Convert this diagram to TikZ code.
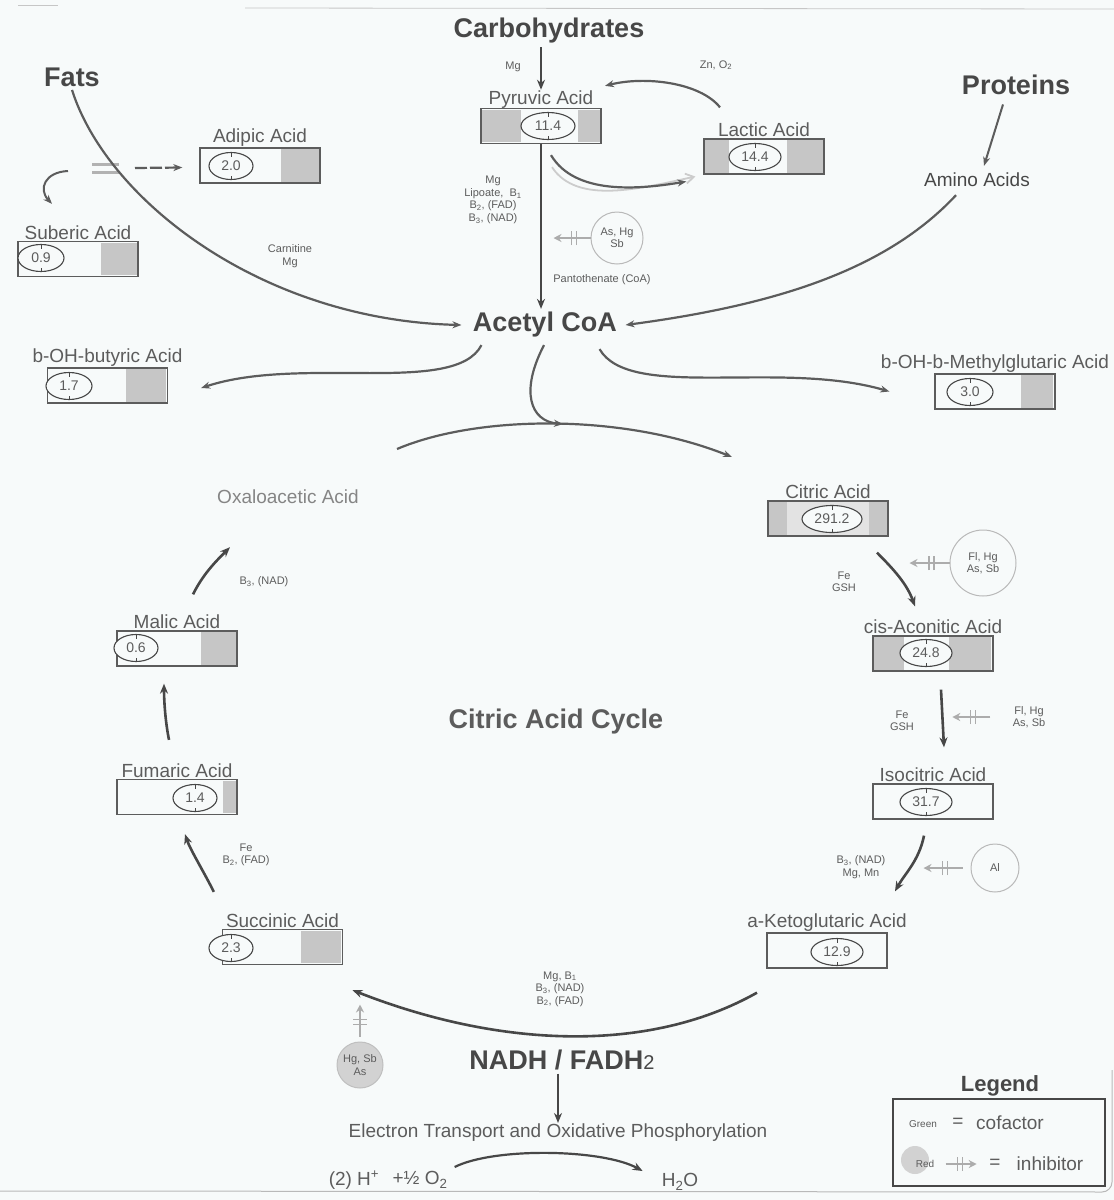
\documentclass[tikz,border=0pt]{standalone}
\usepackage{fontspec}
\setmainfont{Liberation Sans}
\usetikzlibrary{positioning,shapes.geometric,arrows.meta,decorations.markings,backgrounds,calc}
\definecolor{ink}{HTML}{474747}
\definecolor{softink}{HTML}{5C5C5C}
\definecolor{paleink}{HTML}{858585}
\definecolor{paper}{HTML}{F7FAFA}
\definecolor{shade}{HTML}{C6C6C6}

\begin{document}
\begin{tikzpicture}[x=1pt, y=-1pt,
    title/.style={font=\fontsize{27}{30}\selectfont\bfseries, text=ink},
    acidlabel/.style={font=\fontsize{19}{21}\selectfont, text=softink, inner sep=1pt},
    acidbox/.style={draw=softink, line width=1.3pt, minimum width=120, minimum height=35, inner sep=0pt},
    value/.style={ellipse, draw=ink, line width=1.1pt, fill=paper, minimum width=46, minimum height=27, inner sep=0pt,
        font=\fontsize{14}{14}\selectfont, text=softink,
        path picture={\draw[ink, line width=0.8pt] (path picture bounding box.north) -- ++(0,4)
            (path picture bounding box.south) -- ++(0,-4);}},
    cofac/.style={font=\fontsize{11}{12.5}\selectfont, text=softink, align=center},
    hatch/.style={fill=shade},
    flow/.style={draw=ink, line width=2.6pt, -{Stealth[length=10pt, width=8pt]}},
    branch/.style={draw=softink, line width=2.2pt, -{Stealth[length=9pt, width=7pt]}},
    poison/.style={circle, draw=gray!55, line width=1pt, fill=paper, minimum size=52, inner sep=0pt,
        font=\fontsize{11}{12.5}\selectfont, text=softink, align=center},
    inhib/.style={draw=gray!65, line width=2.2pt, -{Stealth[length=8pt, width=8pt]},
        decoration={markings, mark=at position 0.45 with {\draw[-, gray!65, line width=1.3pt] (-2.5,-7) -- (-2.5,7) (2.5,-7) -- (2.5,7);}},
        postaction={decorate}}
]
\begin{scope}[on background layer]
\fill[paper] (0,0) rectangle (1114,1200);
\end{scope}
\useasboundingbox (0,0) rectangle (1114,1200);

% Page edges of the scan
\draw[gray!45, line width=0.8pt] (18,5) -- (58,5);
\draw[gray!45, line width=0.8pt] (245,8) -- (1114,9);
\draw[gray!55, line width=1pt, rounded corners=10pt] (0,1191) -- (1112,1192) -- (1112,1070);

% Sources
\node[title] (carbo) at (549,31) {Carbohydrates};
\node[title] (fats) at (72,77) {Fats};
\node[title] (proteins) at (1016,85) {Proteins};
\node[acidlabel, text=ink] (amino) at (977,180) {Amino Acids};
\node[title] (acetyl) at (545,325) {Acetyl CoA};

% Side acids
\node[acidbox] (pyruvic) at (541,126) {};
\node[acidlabel, above=-2pt of pyruvic] (pyruvic-label) {Pyruvic Acid};
\node[acidbox] (lactic) at (764,156.5) {};
\node[acidlabel, above=0pt of lactic] (lactic-label) {Lactic Acid};
\node[acidbox] (adipic) at (260,165.5) {};
\node[acidlabel, above=0pt of adipic] (adipic-label) {Adipic Acid};
\node[acidbox] (suberic) at (78,259) {};
\node[acidlabel, above=0pt of suberic] (suberic-label) {Suberic Acid};
\node[acidbox] (butyric) at (107.5,385.5) {};
\node[acidlabel, above=0pt of butyric] (butyric-label) {b-OH-butyric Acid};
\node[acidbox] (hmg) at (995,391.5) {};
\node[acidlabel, above=0pt of hmg] (hmg-label) {b-OH-b-Methylglutaric Acid};

% Cycle acids
\node[acidbox] (citric) at (828,518.5) {};
\node[acidlabel, above=0pt of citric] (citric-label) {Citric Acid};
\node[acidbox] (aconitic) at (933,653.5) {};
\node[acidlabel, above=0pt of aconitic] (aconitic-label) {cis-Aconitic Acid};
\node[acidbox] (isocitric) at (933,801.5) {};
\node[acidlabel, above=0pt of isocitric] (isocitric-label) {Isocitric Acid};
\node[acidbox] (keto) at (827,950.5) {};
\node[acidlabel, above=0pt of keto] (keto-label) {a-Ketoglutaric Acid};
\node[acidbox] (succinic) at (282.5,947) {};
\node[acidlabel, above=0pt of succinic] (succinic-label) {Succinic Acid};
\node[acidbox] (fumaric) at (177,797) {};
\node[acidlabel, above=0pt of fumaric] (fumaric-label) {Fumaric Acid};
\node[acidbox] (malic) at (177,648.5) {};
\node[acidlabel, above=0pt of malic] (malic-label) {Malic Acid};
\node[acidlabel, text=paleink] (oxalo) at (288,497) {Oxaloacetic Acid};

% Pencil shading in the boxes
\begin{scope}[on background layer]
\fill[hatch] ([shift={(2,2)}]pyruvic.north west) rectangle ([shift={(41,-2)}]pyruvic.south west);
\fill[hatch] ([shift={(-24,2)}]pyruvic.north east) rectangle ([shift={(-2,-2)}]pyruvic.south east);
\fill[hatch] ([shift={(2,2)}]lactic.north west) rectangle ([shift={(26,-2)}]lactic.south west);
\fill[hatch] ([shift={(-38,2)}]lactic.north east) rectangle ([shift={(-2,-2)}]lactic.south east);
\fill[hatch] ([shift={(-40,2)}]adipic.north east) rectangle ([shift={(-2,-2)}]adipic.south east);
\fill[hatch] ([shift={(-38,2)}]suberic.north east) rectangle ([shift={(-2,-2)}]suberic.south east);
\fill[hatch] ([shift={(-42,2)}]butyric.north east) rectangle ([shift={(-2,-2)}]butyric.south east);
\fill[hatch] ([shift={(-35,2)}]hmg.north east) rectangle ([shift={(-3,-2)}]hmg.south east);
\fill[gray!22] ([shift={(2,2)}]citric.north west) rectangle ([shift={(-2,-2)}]citric.south east);
\fill[hatch] ([shift={(2,2)}]citric.north west) rectangle ([shift={(20,-2)}]citric.south west);
\fill[hatch] ([shift={(-20,2)}]citric.north east) rectangle ([shift={(-2,-2)}]citric.south east);
\fill[hatch] ([shift={(2,2)}]aconitic.north west) rectangle ([shift={(32,-2)}]aconitic.south west);
\fill[hatch] ([shift={(-45,2)}]aconitic.north east) rectangle ([shift={(-3,-2)}]aconitic.south east);
\fill[hatch] ([shift={(-42,2)}]succinic.north east) rectangle ([shift={(-2,-2)}]succinic.south east);
\fill[hatch] ([shift={(-15,2)}]fumaric.north east) rectangle ([shift={(-1,-2)}]fumaric.south east);
\fill[hatch] ([shift={(-37,2)}]malic.north east) rectangle ([shift={(-1,-2)}]malic.south east);
\end{scope}

% Values
\node[value, minimum width=54] (pyruvic-val) at (548,126) {11.4};
\node[value, minimum width=52] (lactic-val) at (755,157) {14.4};
\node[value, minimum width=44] (adipic-val) at (231,166) {2.0};
\node[value] (suberic-val) at (41,258) {0.9};
\node[value] (butyric-val) at (69,386) {1.7};
\node[value] (hmg-val) at (970,392) {3.0};
\node[value, minimum width=60] (citric-val) at (832,519) {291.2};
\node[value, minimum width=52] (aconitic-val) at (926,653) {24.8};
\node[value, minimum width=52] (isocitric-val) at (926,802) {31.7};
\node[value, minimum width=52] (keto-val) at (837,952) {12.9};
\node[value, minimum width=44] (succinic-val) at (231,948) {2.3};
\node[value, minimum width=44] (fumaric-val) at (195,798) {1.4};
\node[value, minimum width=44] (malic-val) at (136,648) {0.6};

% Cofactors
\node[cofac] (mg-top) at (513,67) {Mg};
\node[cofac] (zn) at (716,65) {Zn, O\textsubscript{2}};
\node[cofac] (pdh) at (493,200) {Mg\\Lipoate,\ \ B\textsubscript{1}\\B\textsubscript{2}, (FAD)\\B\textsubscript{3}, (NAD)};
\node[cofac] (coa) at (602,280) {Pantothenate (CoA)};
\node[cofac] (carnitine) at (290,256) {Carnitine\\Mg};
\node[cofac] (fe-citric) at (844,582) {Fe\\GSH};
\node[cofac] (fe-aconitic) at (902,721) {Fe\\GSH};
\node[cofac] (nad-iso) at (861,867) {B\textsubscript{3}, (NAD)\\Mg, Mn};
\node[cofac] (kgdh) at (560,989) {Mg, B\textsubscript{1}\\B\textsubscript{3}, (NAD)\\B\textsubscript{2}, (FAD)};
\node[cofac] (fad-succ) at (246,855) {Fe\\B\textsubscript{2}, (FAD)};
\node[cofac] (nad-malic) at (264,582) {B\textsubscript{3}, (NAD)};

% Inhibitors
\node[poison] (ashg) at (617,238) {As, Hg\\Sb};
\node[poison, minimum size=66] (flhg-citric) at (983,563) {Fl, Hg\\As, Sb};
\node[cofac] (flhg-aconitic) at (1029,717) {Fl, Hg\\As, Sb};
\node[poison, minimum size=48] (al) at (995,868) {Al};
\node[poison, minimum size=46, draw=gray!50, fill=gray!35] (hgsb) at (360,1065) {Hg, Sb\\As};

% Centre and bottom
\node[title, text=softink] (cycle) at (556,722) {Citric Acid Cycle};
\node[title] (nadh) at (562,1060) {NADH / FADH{\mdseries\fontsize{20}{20}\selectfont 2}};
\node[acidlabel] (etc) at (558,1133) {Electron Transport and Oxidative Phosphorylation};
\node[acidlabel] (hplus) at (354,1180) {(2) H\textsuperscript{+}};
\node[acidlabel] (o2) at (420,1180) {+½ O\textsubscript{2}};
\node[acidlabel] (water) at (680,1182) {H\textsubscript{2}O};

% Legend
\node[title, font=\fontsize{22}{24}\selectfont\bfseries] (legend-title) at (1000,1086) {Legend};
\node[draw=ink, line width=1.3pt, minimum width=212, minimum height=87] (legend) at (999,1142.5) {};
\node[cofac, font=\fontsize{10}{10}\selectfont] (green) at (923,1124) {Green};
\node[acidlabel] (eq-green) at (958,1123) {=};
\node[acidlabel] (cofactor) at (1010,1123) {cofactor};
\node[circle, fill=gray!35, minimum size=28, inner sep=0pt] (red-dot) at (915,1160) {};
\node[cofac, font=\fontsize{10}{10}\selectfont] (red) at (925,1164) {Red};
\node[acidlabel] (eq-red) at (995,1164) {=};
\node[acidlabel] (inhibitor) at (1050,1164) {inhibitor};

% Fats branch
\coordinate (fat-break) at (105,168);
\draw[gray!60, line width=3pt] ([shift={(-13,-4)}]fat-break) -- ++(27,0) ([shift={(-13,4)}]fat-break) -- ++(27,0);
\draw[branch] (fats.south) .. controls +(35,110) and +(-200,-5) .. ([shift={(-8,0)}]acetyl.west);
\draw[branch, dash pattern=on 12pt off 3pt] ([shift={(30,0)}]fat-break) -- ([shift={(-17,2)}]adipic.west);
\draw[branch, line width=2pt] ([shift={(-37,3)}]fat-break) .. controls +(-23,1) and +(-14,-15) .. ([shift={(-26,-37)}]suberic.north);

% Carbohydrates branch
\draw[flow] (carbo.south -| pyruvic-label.north) -- (pyruvic-label.north);
\draw[flow] (pyruvic.south) -- (pyruvic.south |- acetyl.north);
\draw[gray!40, line width=1.8pt, -{Straight Barb[length=8pt, width=10pt]}] ([shift={(11,23)}]pyruvic.south) .. controls +(25,38) and +(-55,12) .. ([shift={(-8,20)}]lactic.west);
\draw[branch] ([shift={(10,11)}]pyruvic.south) .. controls +(24,40) and +(-48,8) .. ([shift={(-17,25)}]lactic.west);
\draw[branch] ([shift={(-44,-31)}]lactic.north) .. controls +(-20,-25) and +(40,-10) .. ([shift={(64,-22)}]pyruvic.north);
\draw[inhib] (ashg.west) -- ++(-37,0);

% Proteins branch
\draw[branch, line width=2pt] ([shift={(-13,6)}]proteins.south) -- ([shift={(7,-6)}]amino.north);
\draw[branch] ([shift={(-21,7)}]amino.south) .. controls +(-70,75) and +(150,-20) .. ([shift={(5,0)}]acetyl.east);

% Out of Acetyl CoA
\coordinate (arc-in) at (397,449);
\coordinate (arc-out) at (732,457);
\draw[branch] ([shift={(12,4)}]acetyl.south west) .. controls +(-26,51) and +(100,-33) .. ([shift={(33,2.5)}]butyric.east);
\draw[branch] ([shift={(-21,8)}]acetyl.south east) .. controls +(30,52) and +(-110,-32) .. ([shift={(-45,0)}]hmg.west);
\draw[branch] ([shift={(-1,4)}]acetyl.south) .. controls +(-24,46) and +(-33,-3) .. ([shift={(18,83)}]acetyl.south);
\draw[branch] (arc-in) .. controls +(80,-34) and +(-110,-44) .. (arc-out);

% The cycle
\draw[flow] ([shift={(49,16)}]citric.south) .. controls +(18,18) and +(-8,-22) .. ([shift={(-18,-29)}]aconitic.north);
\draw[inhib] (flhg-citric.west) -- ++(-40,0);
\draw[flow] ([shift={(8,18)}]aconitic.south) -- ([shift={(11,-36)}]isocitric.north);
\draw[inhib] ([shift={(-19,0)}]flhg-aconitic.west) -- ++(-38,0);
\draw[flow] ([shift={(-9,16)}]isocitric.south) .. controls +(-5,25) and +(10,-18) .. ([shift={(68,-41)}]keto.north);
\draw[inhib] ([shift={(-8,0)}]al.west) -- ++(-39,0);
\draw[flow] ([shift={(-70,24)}]keto.south) .. controls +(-110,62) and +(145,57) .. ([shift={(70,25)}]succinic.south);
\draw[inhib] ([shift={(0,-5)}]hgsb.north) -- ++(0,-32);
\draw[flow] ([shift={(-8,-37)}]succinic.north west) .. controls +(-10,-20) and +(5,15) .. ([shift={(8,19)}]fumaric.south);
\draw[flow] ([shift={(-8,-39)}]fumaric.north) .. controls +(-4,-20) and +(0,15) .. ([shift={(-13,17)}]malic.south);
\draw[flow] ([shift={(16,-36)}]malic.north) .. controls +(10,-20) and +(-15,15) .. ([shift={(-58,42)}]oxalo.south);

% Energy
\draw[flow] (nadh.south -| etc.north) -- (etc.north);
\draw[flow, line width=2.2pt] ([shift={(6,-13)}]o2.east) .. controls +(40,-20) and +(-40,-22) .. ([shift={(-18,-11)}]water.west);

% Legend arrow
\draw[inhib, line width=1.6pt] ([shift={(8,0)}]red.east) -- ++(31,0);

\end{tikzpicture}
\end{document}
